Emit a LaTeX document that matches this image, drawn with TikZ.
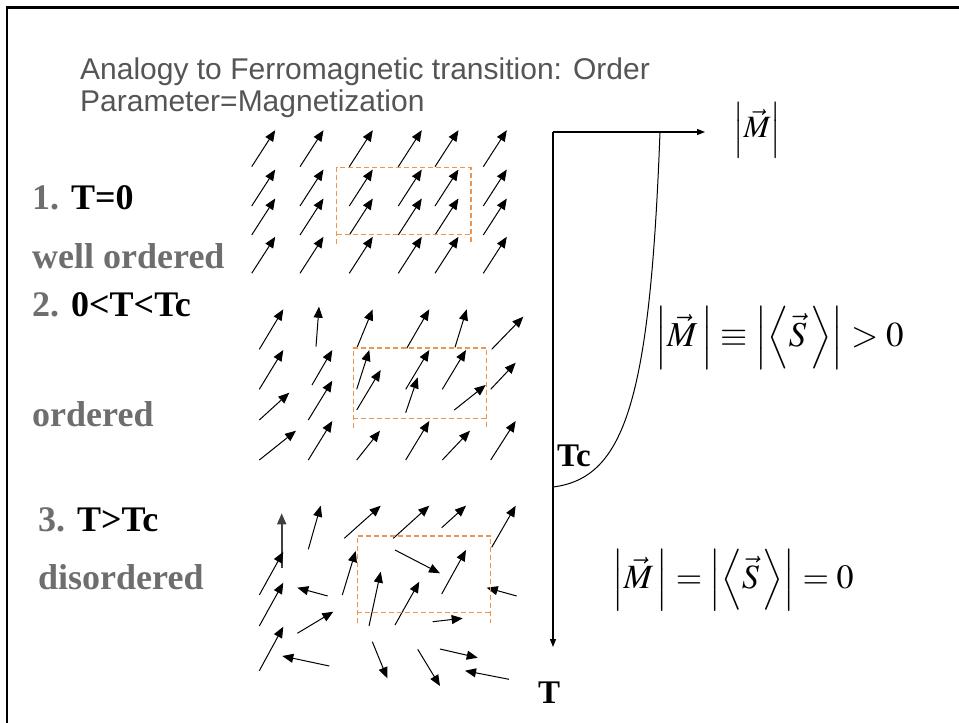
\documentclass[tikz,border=0pt]{standalone}
\usepackage{mathptmx}
\usepackage{fontspec}
\setmainfont{Liberation Serif}
\newfontfamily\arialf{Liberation Sans}
\usetikzlibrary{arrows.meta}
\definecolor{titlegray}{RGB}{85,85,85}
\definecolor{labgray}{RGB}{110,110,110}
\definecolor{boxorange}{RGB}{238,150,80}
\begin{document}
\begin{tikzpicture}[x=1pt,y=-1pt,
  spin/.style={line width=1pt,-{Triangle[length=11pt,width=9pt]}},
  cellbox/.style={draw=boxorange,line width=1.3pt,dash pattern=on 5pt off 3pt},
  axis/.style={line width=1.1pt,-{Triangle[length=8pt,width=6pt]}},
  title/.style={font=\arialf\fontsize{30}{36}\selectfont, text=titlegray, anchor=base west, inner sep=0pt},
  lab/.style={font=\bfseries\fontsize{36}{42}\selectfont, anchor=base west, inner sep=0pt},
  eq/.style={font=\fontsize{35}{42}\selectfont, anchor=west, inner sep=0pt}]
\useasboundingbox (0,0) rectangle (959,723);
\draw[line width=2.5pt] (7,723) -- (7,7.5) -- (959,7.5);
% title
\node[title] (t1) at (80,79) {Analogy to Ferromagnetic transition: Order};
\node[title] (t2) at (80,111) {Parameter=Magnetization};
% left labels
\node[lab] (l1) at (32,209) {\textcolor{labgray}{1.} T=0};
\node[lab,text=labgray] (l1b) at (32,268) {well ordered};
\node[lab] (l2) at (32,316) {\textcolor{labgray}{2.} 0<T<Tc};
\node[lab,text=labgray] (l2b) at (32,426) {ordered};
\node[lab] (l3) at (38,531) {\textcolor{labgray}{3.} T>Tc};
\node[lab,text=labgray] (l3b) at (38,589) {disordered};
% panel 1
\foreach \x in {251.7,300,349.3,398.3,435,483.3}
  \foreach \y in {166.7,206,235,273.3}
    \draw[spin] (\x,\y) -- ++(23.5,-36.5);
\draw[cellbox] (336.7,244) -- (336.7,167.7) -- (471,167.7) -- (471,244);
\draw[cellbox] (336.7,234.3) -- (471,234.3);
% panel 2
\foreach \a/\b/\c/\d in {
  259.3/349.3/283.3/309.3, 316/346.7/319/306.7, 356.7/348.3/372.7/309.3,
  406.7/348.3/429.3/309.3, 455/347.3/466.7/309.3, 491.7/349.3/523.3/316.7,
  259.3/389.3/283.3/350, 312/385/332.3/350, 356.7/389.3/369.3/350,
  405.7/389.3/429.3/350, 442.3/389.3/466/350, 490.7/389.3/515.7/362.7,
  259.3/420/289.3/392.7, 308.3/420/332.3/380.7, 356.7/410/380.7/370,
  405.7/412.7/417.7/377.3, 454.3/410/485.7/385,
  259.3/460/296/430.7, 308.3/460/332.3/421, 356.7/460/380/430.7,
  405.7/460/429.3/421, 442.3/460/470/430.7, 490.7/460/515.7/421}
  \draw[spin] (\a,\b) -- (\c,\d);
\draw[cellbox] (353.3,428.3) -- (353.3,348) -- (486.7,348) -- (486.7,428.3);
\draw[cellbox] (353.3,418.3) -- (486.7,418.3);
% panel 3
\draw[spin,line width=1.8pt,draw=black!75] (281.7,568.3) -- (281.7,513.3);
\foreach \a/\b/\c/\d in {
  308.3/549.3/320.7/505.7, 344.3/538.3/380.7/505.7, 393.3/538.3/429.3/505.7,
  441.7/527.7/466/505.7, 491.7/547.3/515.7/505.7,
  259.3/595/283.3/551.7, 327.7/596/297.3/587.7, 342.3/595/355.7/551,
  395/550/440/573.3, 441.7/594/466/550, 516.7/596/486.7/587.7,
  259.3/626/283.3/582.7, 297.3/633.3/333.3/611.7, 369/626/380.7/571.7,
  395/625/419.3/581.7, 432.7/621.7/462.7/618.3,
  259.3/670.7/283.3/626.7, 329.3/666/282.3/656, 372.3/641.7/387.3/678.3,
  417.7/649.3/440/686, 440/649/477.7/657.7, 509/679.3/465/670.7}
  \draw[spin] (\a,\b) -- (\c,\d);
\draw[cellbox] (357.3,623.3) -- (357.3,536) -- (490.7,536) -- (490.7,623.3);
\draw[cellbox] (357.3,612.7) -- (490.7,612.7);
% axes
\coordinate (O) at (553,132);
\coordinate (Mend) at (705,132);
\coordinate (Tend) at (553,647);
\draw[axis] (O) -- (Mend);
\draw[axis] (O) -- (Tend);
\draw[line width=1pt] (660,132) .. controls (650,400) and (625,478) .. (553,487);
\node[eq,font=\fontsize{31}{38}\selectfont] (mlab) at (733,130) {$\left|\vec{M}\right|$};
\node[lab,font=\bfseries\fontsize{33}{38}\selectfont] (tc) at (557,466) {Tc};
\node[lab,font=\bfseries\fontsize{33}{38}\selectfont,anchor=base] (tl) at (549,703) {T};
\node[eq] (eqa) at (655,338) {$\left|\vec{M}\,\right| \equiv \left|\left\langle\vec{S}\,\right\rangle\right| > 0$};
\node[eq,font=\fontsize{34}{40}\selectfont] (eqb) at (612,580) {$\left|\vec{M}\,\right| = \left|\left\langle\vec{S}\,\right\rangle\right| = 0$};
\end{tikzpicture}
\end{document}
